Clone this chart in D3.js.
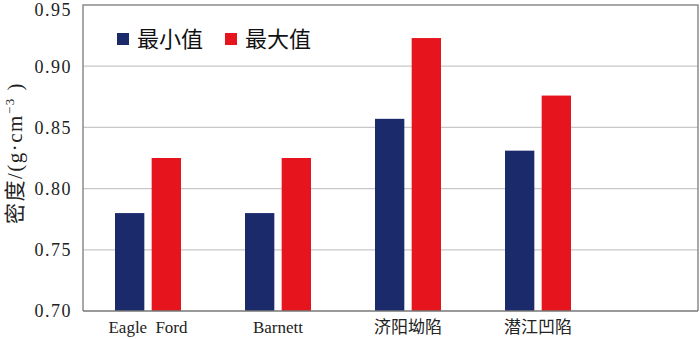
<!DOCTYPE html>
<html>
<head>
<meta charset="utf-8">
<script src="https://cdn.jsdelivr.net/npm/d3@7"></script>
<style>
  body { margin: 0; background: #fff; }
</style>
</head>
<body>
<div id="chart"></div>
<script>
const categories = ["Eagle Ford", "Barnett", "济阳坳陷", "潜江凹陷"];
const seriesNames = ["最小值", "最大值"];
const minValues = [0.780, 0.780, 0.857, 0.831];
const maxValues = [0.825, 0.825, 0.923, 0.876];
const yTicks = [0.70, 0.75, 0.80, 0.85, 0.90, 0.95];
const colors = ["#1b2a6b", "#e6141c"];

const FONT = "'Liberation Serif', 'Times New Roman', 'DejaVu Serif', 'Noto Sans CJK SC', serif";

const W = 700, H = 339;
const margin = {top: 5, right: 2, bottom: 28, left: 83};
const width = W - margin.left - margin.right,
      height = H - margin.top - margin.bottom;

const svg = d3.select("#chart").append("svg")
    .attr("width", W)
    .attr("height", H)
    .style("font-family", FONT);

const g = svg.append("g")
    .attr("transform", "translate(" + margin.left + "," + margin.top + ")");

// groups occupy the left 520px of the plot area
const x = d3.scaleBand().domain(categories).range([0, 520]);
const x1 = d3.scaleBand().domain(seriesNames).range([32, 98]).paddingInner(0.2);
const y = d3.scaleLinear().domain([0.70, 0.95]).range([height, 0]);

// gridlines
g.selectAll(".grid")
  .data(yTicks.slice(1, -1))
  .enter().append("line")
    .attr("x1", 0).attr("x2", width)
    .attr("y1", d => y(d)).attr("y2", d => y(d))
    .attr("stroke", "#c8c8c8")
    .attr("stroke-width", 1.2);

// bars
const data = categories.map((c, i) => ({cat: c, vals: [minValues[i], maxValues[i]]}));
const grp = g.selectAll(".grp")
  .data(data)
  .enter().append("g")
    .attr("transform", d => "translate(" + x(d.cat) + ",0)");

grp.selectAll("rect")
  .data(d => d.vals.map((v, j) => ({name: seriesNames[j], v: v, j: j})))
  .enter().append("rect")
    .attr("x", d => x1(d.name))
    .attr("width", x1.bandwidth())
    .attr("y", d => y(d.v))
    .attr("height", d => height - y(d.v))
    .attr("fill", d => colors[d.j]);

// frame
g.append("path")
    .attr("d", "M0," + height + "V0H" + width + "V" + height)
    .attr("fill", "none")
    .attr("stroke", "#8c8c8c")
    .attr("stroke-width", 1.5);
g.append("line")
    .attr("x1", 0).attr("x2", width)
    .attr("y1", height).attr("y2", height)
    .attr("stroke", "#777")
    .attr("stroke-width", 1.5);

// y tick labels (top one nudged down so it stays inside the page)
g.selectAll(".ylab")
  .data(yTicks)
  .enter().append("text")
    .attr("x", -11)
    .attr("y", d => y(d) + (d === 0.95 ? 5 : 0))
    .attr("dy", "0.35em")
    .attr("text-anchor", "end")
    .attr("font-size", 18)
    .attr("letter-spacing", 1.5)
    .attr("fill", "#222")
    .text(d => d.toFixed(2));

// x labels
g.selectAll(".xlab")
  .data(categories)
  .enter().append("text")
    .attr("x", d => x(d) + x.bandwidth() / 2)
    .attr("y", height + 22)
    .attr("text-anchor", "middle")
    .attr("font-size", 17)
    .attr("word-spacing", 4)
    .attr("fill", "#222")
    .text(d => d);

// y axis title
const yt = svg.append("text")
    .attr("transform", "translate(22,153) rotate(-90)")
    .attr("text-anchor", "middle")
    .attr("font-size", 21)
    .attr("letter-spacing", 1.5)
    .attr("fill", "#222");
yt.append("tspan").text("密度/(g·cm");
yt.append("tspan").attr("dy", -8).attr("font-size", 13).text("−3");
yt.append("tspan").attr("dy", 8).text(" )");

// legend
const leg = svg.append("g").attr("transform", "translate(117,33)");
const li = leg.selectAll(".li")
  .data(seriesNames)
  .enter().append("g")
    .attr("transform", (d, i) => "translate(" + (i * 108) + ",0)");
li.append("rect")
    .attr("width", 12).attr("height", 12)
    .attr("fill", (d, i) => colors[i]);
li.append("text")
    .attr("x", 20)
    .attr("y", 6)
    .attr("dy", "0.38em")
    .attr("font-size", 22)
    .attr("fill", "#111")
    .text(d => d);
</script>
</body>
</html>
